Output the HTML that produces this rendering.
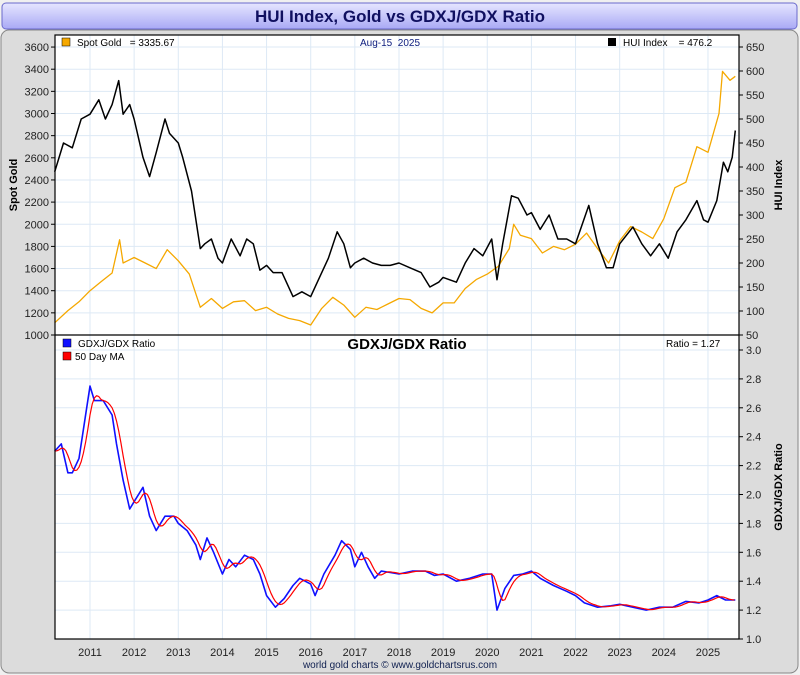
<!DOCTYPE html>
<html><head><meta charset="utf-8"><style>
html,body{margin:0;padding:0;background:#fff}
svg{display:block;font-family:"Liberation Sans",Arial,sans-serif}
</style></head><body>
<svg id="c" width="800" height="675" viewBox="0 0 800 675">
<defs><linearGradient id="tg" x1="0" y1="0" x2="0" y2="1"><stop offset="0" stop-color="#e6e6ff"/><stop offset="1" stop-color="#a9a9f5"/></linearGradient></defs>
<rect x="0" y="0" width="800" height="675" fill="#f0f0f0"/>
<rect x="1" y="30" width="797" height="643" rx="8" fill="#dcdcdc" stroke="#888"/>
<rect x="2" y="3" width="795" height="26" rx="4" fill="url(#tg)" stroke="#6a6acb"/>
<text x="400" y="22" text-anchor="middle" font-size="17" font-weight="bold" fill="#101060">HUI Index, Gold vs GDXJ/GDX Ratio</text>
<rect x="55" y="35" width="684" height="604" fill="#fff"/>
<g id="grid"></g><g id="marks"></g>
<rect x="55" y="35" width="684" height="604" fill="none" stroke="#000" stroke-width="1.2"/>
<line x1="55" y1="335" x2="739" y2="335" stroke="#000" stroke-width="1.2"/>
<g id="axes" font-size="11" fill="#222"></g>
<rect x="62" y="38" width="8" height="8" fill="#f5a800" stroke="#000" stroke-width="0.5"/>
<text x="77" y="46" font-size="10">Spot Gold &#160; = 3335.67</text>
<text x="360" y="46" font-size="10" fill="#102080">Aug-15 &#160;2025</text>
<rect x="608" y="38" width="8" height="8" fill="#000"/>
<text x="623" y="46" font-size="10">HUI Index &#160;&#160; = 476.2</text>
<rect x="63" y="339" width="8" height="8" fill="#1010ff" stroke="#000" stroke-width="0.5"/>
<text x="78" y="347" font-size="10">GDXJ/GDX Ratio</text>
<rect x="63" y="352" width="8" height="8" fill="#f00" stroke="#000" stroke-width="0.5"/>
<text x="75" y="360" font-size="10">50 Day MA</text>
<text x="407" y="349" text-anchor="middle" font-size="15" font-weight="bold">GDXJ/GDX Ratio</text>
<text x="666" y="347" font-size="10">Ratio = 1.27</text>
<text x="400" y="668" text-anchor="middle" font-size="10" fill="#102050">world gold charts © www.goldchartsrus.com</text>
<text transform="translate(17,185) rotate(-90)" text-anchor="middle" font-size="11" font-weight="bold">Spot Gold</text>
<text transform="translate(782,185) rotate(-90)" text-anchor="middle" font-size="11" font-weight="bold">HUI Index</text>
<text transform="translate(782,487) rotate(-90)" text-anchor="middle" font-size="11" font-weight="bold">GDXJ/GDX Ratio</text>
</svg>
<script>
const goldT=[2010.2,2010.5,2010.75,2011.0,2011.25,2011.5,2011.67,2011.75,2012.0,2012.25,2012.5,2012.75,2013.0,2013.25,2013.5,2013.75,2014.0,2014.25,2014.5,2014.75,2015.0,2015.25,2015.5,2015.75,2016.0,2016.25,2016.5,2016.75,2017.0,2017.25,2017.5,2017.75,2018.0,2018.25,2018.5,2018.75,2019.0,2019.25,2019.5,2019.75,2020.0,2020.25,2020.5,2020.6,2020.75,2021.0,2021.25,2021.5,2021.75,2022.0,2022.25,2022.5,2022.75,2023.0,2023.25,2023.5,2023.75,2024.0,2024.25,2024.5,2024.75,2025.0,2025.25,2025.33,2025.5,2025.62];
const goldV=[1110,1220,1300,1400,1480,1560,1860,1650,1700,1650,1600,1770,1670,1550,1250,1330,1240,1300,1310,1220,1250,1190,1150,1130,1090,1240,1340,1270,1160,1250,1230,1280,1330,1320,1240,1200,1290,1290,1420,1500,1550,1620,1780,2000,1900,1870,1740,1800,1770,1820,1920,1780,1650,1850,1980,1930,1870,2050,2330,2380,2700,2650,3000,3380,3300,3336];
const huiT=[2010.2,2010.4,2010.6,2010.8,2011.0,2011.2,2011.35,2011.5,2011.65,2011.75,2011.9,2012.0,2012.2,2012.35,2012.5,2012.7,2012.8,2013.0,2013.1,2013.3,2013.5,2013.6,2013.75,2013.9,2014.0,2014.2,2014.4,2014.55,2014.7,2014.85,2015.0,2015.15,2015.35,2015.6,2015.8,2016.0,2016.2,2016.4,2016.6,2016.75,2016.9,2017.0,2017.2,2017.4,2017.6,2017.8,2018.0,2018.25,2018.5,2018.7,2018.9,2019.0,2019.3,2019.5,2019.7,2019.9,2020.1,2020.22,2020.35,2020.55,2020.7,2020.9,2021.0,2021.2,2021.4,2021.6,2021.8,2022.0,2022.3,2022.5,2022.7,2022.85,2023.0,2023.3,2023.5,2023.7,2023.9,2024.1,2024.3,2024.5,2024.75,2024.9,2025.0,2025.2,2025.35,2025.45,2025.55,2025.62];
const huiV=[390,450,440,500,510,540,500,530,580,510,530,500,420,380,430,500,470,450,420,350,230,240,250,210,200,250,215,250,240,185,195,180,180,130,140,130,170,210,265,240,190,200,210,200,195,195,200,190,180,150,160,170,160,200,230,215,250,165,240,340,335,300,305,270,300,250,250,240,320,240,190,190,240,275,240,215,240,210,265,290,330,290,285,330,410,390,420,476];
const ratioT=[2010.2,2010.35,2010.5,2010.6,2010.75,2010.9,2011.0,2011.1,2011.3,2011.5,2011.6,2011.75,2011.9,2012.0,2012.2,2012.35,2012.5,2012.7,2012.9,2013.0,2013.2,2013.4,2013.5,2013.65,2013.8,2014.0,2014.15,2014.3,2014.5,2014.7,2014.85,2015.0,2015.2,2015.4,2015.6,2015.75,2016.0,2016.1,2016.3,2016.55,2016.7,2016.9,2017.0,2017.15,2017.3,2017.45,2017.6,2017.8,2018.0,2018.3,2018.6,2018.8,2019.0,2019.3,2019.6,2019.9,2020.1,2020.22,2020.4,2020.6,2020.8,2021.0,2021.2,2021.5,2021.8,2022.0,2022.2,2022.5,2022.8,2023.0,2023.3,2023.6,2023.9,2024.2,2024.5,2024.8,2025.0,2025.2,2025.4,2025.62];
const ratioV=[2.3,2.35,2.15,2.15,2.25,2.55,2.75,2.65,2.65,2.55,2.35,2.1,1.9,1.95,2.05,1.85,1.75,1.85,1.85,1.8,1.75,1.65,1.55,1.7,1.6,1.45,1.55,1.5,1.58,1.55,1.45,1.3,1.22,1.28,1.37,1.42,1.38,1.3,1.45,1.58,1.68,1.62,1.5,1.6,1.5,1.42,1.47,1.46,1.45,1.47,1.47,1.44,1.45,1.4,1.42,1.45,1.45,1.2,1.35,1.44,1.45,1.47,1.42,1.37,1.33,1.3,1.25,1.22,1.23,1.24,1.22,1.2,1.22,1.22,1.26,1.25,1.27,1.3,1.27,1.27];
const goldTicks=[1000,1200,1400,1600,1800,2000,2200,2400,2600,2800,3000,3200,3400,3600];
const huiTicks=[50,100,150,200,250,300,350,400,450,500,550,600,650];
const ratioTicks=[1.0,1.2,1.4,1.6,1.8,2.0,2.2,2.4,2.6,2.8,3.0];
const years=[2011,2012,2013,2014,2015,2016,2017,2018,2019,2020,2021,2022,2023,2024,2025];

const NS="http://www.w3.org/2000/svg";
const X=t=>90+(t-2011)*44.14;
const Yg=v=>335-(v-1000)/200*22.15;
const Yh=v=>335-(v-50)/50*24;
const Yr=v=>639-(v-1)/0.2*28.9;
function mk(tag,attrs,parent){const e=document.createElementNS(NS,tag);for(const k in attrs)e.setAttribute(k,attrs[k]);parent.appendChild(e);return e;}
const grid=document.getElementById('grid'),marks=document.getElementById('marks'),axes=document.getElementById('axes');
years.forEach(y=>{
  const l=mk('line',{x1:X(y),x2:X(y),y1:35,y2:639,stroke:'#dde9f5'},grid);
  
  
  const t=mk('text',{x:X(y),y:656,'text-anchor':'middle'},axes);t.textContent=y;
  
  
});
goldTicks.forEach(v=>{
  mk('line',{x1:55,x2:739,y1:Yg(v),y2:Yg(v),stroke:'#dde9f5'},grid);
  mk('line',{x1:51,x2:55,y1:Yg(v),y2:Yg(v),stroke:'#000'},axes);
  const t=mk('text',{x:49,y:Yg(v)+4,'text-anchor':'end'},axes);t.textContent=v;
  
  
});
huiTicks.forEach(v=>{
  mk('line',{x1:739,x2:743,y1:Yh(v),y2:Yh(v),stroke:'#000'},axes);
  const t=mk('text',{x:746,y:Yh(v)+4},axes);t.textContent=v;
  
  
});
ratioTicks.forEach(v=>{
  mk('line',{x1:55,x2:739,y1:Yr(v),y2:Yr(v),stroke:'#dde9f5'},grid);
  mk('line',{x1:739,x2:743,y1:Yr(v),y2:Yr(v),stroke:'#000'},axes);
  const t=mk('text',{x:746,y:Yr(v)+4},axes);t.textContent=v.toFixed(1);
  
  
});
function line(T,V,fx,fy,col,w,name){
  const p=mk('polyline',{points:T.map((t,i)=>fx(t).toFixed(1)+','+fy(V[i]).toFixed(1)).join(' '),fill:'none',stroke:col,'stroke-width':w,'stroke-linejoin':'round'},marks);
  
  
}
function interp(T,V,t){if(t<=T[0])return V[0];for(let i=1;i<T.length;i++)if(t<=T[i]){const f=(t-T[i-1])/(T[i]-T[i-1]);return V[i-1]+f*(V[i]-V[i-1]);}return V[V.length-1];}
const maT=[],maV=[];
for(let t=ratioT[0];t<=ratioT[ratioT.length-1]+1e-9;t+=0.05){let s=0,n=0;for(let k=0;k<=10;k++){s+=interp(ratioT,ratioV,t-k*0.02);n++;}maT.push(t);maV.push(s/n);}
line(goldT,goldV,X,Yg,'#f5a800',1.3,'gold-line');
line(huiT,huiV,X,Yh,'#000',1.5,'hui-line');
line(ratioT,ratioV,X,Yr,'#1010ff',1.6,'ratio-line');
line(maT,maV,X,Yr,'#f00',1.2,'ma-line');
</script>
</body></html>
